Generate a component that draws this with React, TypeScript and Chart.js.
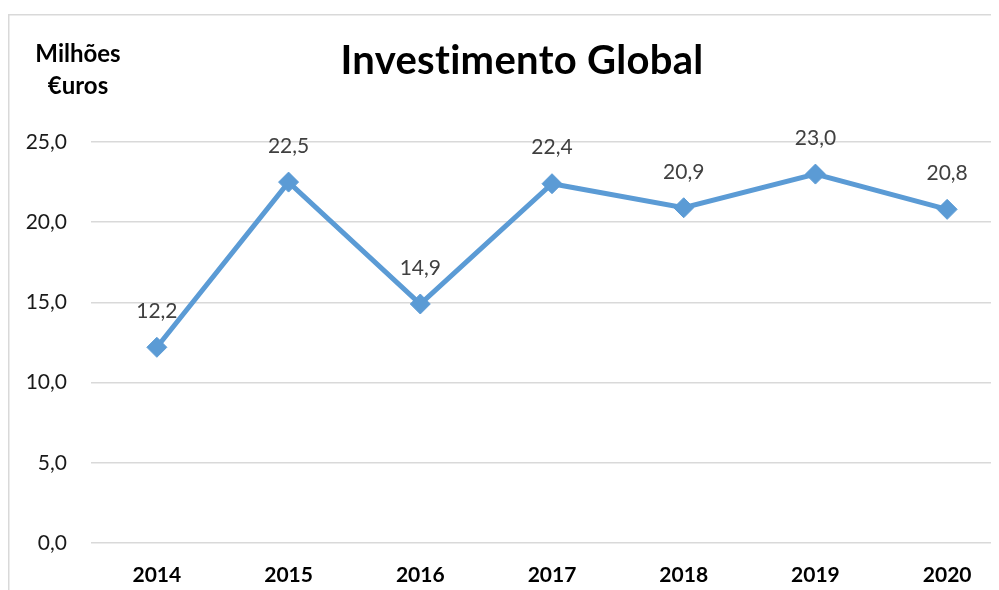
import React, { useEffect, useRef } from "react";
import { Chart, registerables } from "chart.js";

Chart.register(...registerables);

const categories = ["2014", "2015", "2016", "2017", "2018", "2019", "2020"];
const investimento = [12.2, 22.5, 14.9, 22.4, 20.9, 23.0, 20.8];
const chartTitle = "Investimento Global";
const yAxisTitleLines = ["Milhões", "€uros"];

const FONT = "Lato, 'Open Sans', sans-serif";
const fmt = (v: number) => v.toFixed(1).replace(".", ",");

const overlayPlugin = {
  id: "overlay",
  beforeDraw(chart: any) {
    const ctx = chart.ctx;
    ctx.save();
    ctx.strokeStyle = "#d9d9d9";
    ctx.lineWidth = 1.5;
    ctx.beginPath();
    ctx.moveTo(0.75, chart.height + 5);
    ctx.lineTo(0.75, 6.75);
    ctx.lineTo(chart.width + 5, 6.75);
    ctx.stroke();
    ctx.restore();
  },
  afterDatasetsDraw(chart: any) {
    const ctx = chart.ctx;
    const meta = chart.getDatasetMeta(0);
    const data = chart.data.datasets[0].data as number[];
    ctx.save();
    ctx.font = `21px ${FONT}`;
    ctx.fillStyle = "#404040";
    ctx.textAlign = "center";
    ctx.textBaseline = "middle";
    meta.data.forEach((pt: any, i: number) => {
      ctx.fillText(fmt(data[i]), pt.x, pt.y - 36);
    });
    ctx.restore();
  },
  afterDraw(chart: any) {
    const ctx = chart.ctx;
    ctx.save();
    ctx.fillStyle = "#000000";
    ctx.textAlign = "center";
    ctx.textBaseline = "alphabetic";
    ctx.font = `bold 40px ${FONT}`;
    try {
      (ctx as any).letterSpacing = "0.3px";
    } catch (e) {}
    ctx.fillText(chartTitle, 514, 66);
    (ctx as any).letterSpacing = "0px";
    ctx.font = `bold 24px ${FONT}`;
    ctx.fillText(yAxisTitleLines[0], 70, 54);
    ctx.fillText(yAxisTitleLines[1], 70, 86);
    ctx.restore();
  },
};

export default function App() {
  const ref = useRef<HTMLCanvasElement>(null);

  useEffect(() => {
    document.documentElement.style.overflow = "hidden";
    document.body.style.overflow = "hidden";
    const canvas = ref.current;
    if (!canvas) return;
    const chart = new Chart(canvas, {
      type: "line",
      data: {
        labels: categories,
        datasets: [
          {
            data: investimento,
            borderColor: "#5B9BD5",
            backgroundColor: "#5B9BD5",
            borderWidth: 5,
            pointStyle: "rectRot",
            pointRadius: 10,
            pointBorderWidth: 1,
            pointBackgroundColor: "#5B9BD5",
            pointBorderColor: "#5B9BD5",
            tension: 0,
            clip: false as any,
          },
        ],
      },
      options: {
        responsive: false,
        animation: false,
        devicePixelRatio: 1,
        layout: { padding: { top: 134, left: 0, right: 15, bottom: 0 } },
        plugins: {
          legend: { display: false },
          title: { display: false },
          tooltip: { enabled: false },
        },
        scales: {
          x: {
            offset: true,
            grid: { display: false, drawTicks: false },
            border: { display: false },
            ticks: {
              color: "#000000",
              font: { family: FONT, size: 21, weight: "bold" },
              padding: 20,
              maxRotation: 0,
              autoSkip: false,
            },
            afterFit: (s: any) => {
              s.height = 47;
            },
          },
          y: {
            min: 0,
            max: 25,
            grid: { color: "#d9d9d9", lineWidth: 1.5, drawTicks: false },
            border: { display: false },
            ticks: {
              stepSize: 5,
              color: "#1a1a1a",
              font: { family: FONT, size: 21 },
              padding: 24,
              callback: (v: any) => fmt(Number(v)),
            },
            afterFit: (s: any) => {
              s.width = 83;
            },
          },
        },
      },
      plugins: [overlayPlugin],
    });
    return () => chart.destroy();
  }, []);

  return (
    <div style={{ width: 991, height: 582, overflow: "hidden" }}>
      <canvas ref={ref} width={1020} height={582} style={{ display: "block" }} />
    </div>
  );
}
